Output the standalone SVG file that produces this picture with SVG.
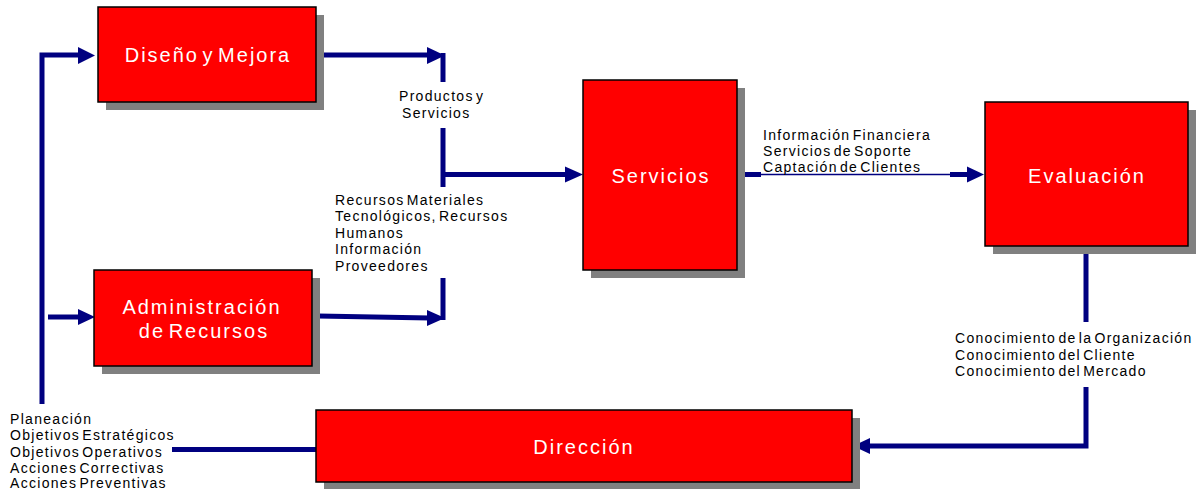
<svg xmlns="http://www.w3.org/2000/svg" width="1199" height="489" viewBox="0 0 1199 489">
<style>
.shadow{fill:#808080}
.box{fill:#ff0000;stroke:#000;stroke-width:1.5}
.lbl{font-family:"Liberation Sans",Arial,sans-serif;font-size:20px;fill:#fff;letter-spacing:2px;word-spacing:-4px;text-anchor:middle}
.txt{font-family:"Liberation Sans",Arial,sans-serif;font-size:14px;fill:#000;letter-spacing:1.3px;word-spacing:-3px}
.ln{fill:none;stroke:#000080;stroke-width:5}
.thin{fill:none;stroke:#000080;stroke-width:1.5}
.ah{fill:#000080}
</style>
<rect width="1199" height="489" fill="#fff"/>
<g id="connectors">
  <path class="ln" d="M42,404 V55 H80"/>
  <polygon class="ah" points="78,47 95,55.5 78,64"/>
  <path class="ln" d="M316,55 H430"/>
  <polygon class="ah" points="427,47 445,55.5 427,64"/>
  <path class="ln" d="M443,53 V82"/>
  <path class="ln" d="M443,128 V187"/>
  <path class="ln" d="M443,174.5 H568"/>
  <polygon class="ah" points="565,166.5 583,174.5 565,182.5"/>
  <path class="ln" d="M443,278 V320"/>
  <path class="ln" d="M318,316 L430,318"/>
  <polygon class="ah" points="427,310 445,318 427,326"/>
  <path class="ln" d="M48,317 H80"/>
  <polygon class="ah" points="78,309 95,317 78,325"/>
  <path class="ln" d="M743,174.5 H761"/>
  <path class="thin" d="M761,174.5 H950"/>
  <path class="ln" d="M950,174.5 H970"/>
  <polygon class="ah" points="967,166.5 984,174.5 967,182.5"/>
  <path class="ln" d="M1086,254 V322"/>
  <path class="ln" d="M1086,387 V446 H868"/>
  <polygon class="ah" points="870,438 853,446 870,454"/>
  <path class="ln" d="M172,449.5 H316"/>
</g>
<g id="node-diseno">
  <rect class="shadow" x="106" y="15" width="218" height="95"/>
  <rect class="box" x="98" y="7" width="218" height="95"/>
  <text class="lbl" x="208" y="62">Diseño y Mejora</text>
</g>
<g id="node-administracion">
  <rect class="shadow" x="102" y="278" width="218" height="96"/>
  <rect class="box" x="94" y="270" width="218" height="96"/>
  <text class="lbl" x="202" y="314">Administración</text>
  <text class="lbl" x="204" y="338">de Recursos</text>
</g>
<g id="node-servicios">
  <rect class="shadow" x="591" y="88" width="154" height="190"/>
  <rect class="box" x="583" y="80" width="154" height="190"/>
  <text class="lbl" x="661" y="183">Servicios</text>
</g>
<g id="node-evaluacion">
  <rect class="shadow" x="993" y="110" width="203" height="144"/>
  <rect class="box" x="985" y="102" width="203" height="144"/>
  <text class="lbl" x="1087" y="183">Evaluación</text>
</g>
<g id="node-direccion">
  <rect class="shadow" x="324" y="418" width="536" height="72"/>
  <rect class="box" x="316" y="410" width="536" height="72"/>
  <text class="lbl" x="584" y="454">Dirección</text>
</g>
<g id="labels">
  <text class="txt" x="399" y="101">Productos y</text>
  <text class="txt" x="402" y="118">Servicios</text>
  <text class="txt" x="335" y="205">Recursos Materiales</text>
  <text class="txt" x="335" y="221">Tecnológicos, Recursos</text>
  <text class="txt" x="335" y="238">Humanos</text>
  <text class="txt" x="335" y="254">Información</text>
  <text class="txt" x="335" y="271">Proveedores</text>
  <text class="txt" x="763" y="140">Información Financiera</text>
  <text class="txt" x="763" y="156">Servicios de Soporte</text>
  <text class="txt" x="763" y="172">Captación de Clientes</text>
  <text class="txt" x="955" y="343">Conocimiento de la Organización</text>
  <text class="txt" x="955" y="360">Conocimiento del Cliente</text>
  <text class="txt" x="955" y="376">Conocimiento del Mercado</text>
  <text class="txt" x="10" y="424">Planeación</text>
  <text class="txt" x="10" y="440">Objetivos Estratégicos</text>
  <text class="txt" x="10" y="457">Objetivos Operativos</text>
  <text class="txt" x="10" y="473">Acciones Correctivas</text>
  <text class="txt" x="10" y="488">Acciones Preventivas</text>
</g>
</svg>
